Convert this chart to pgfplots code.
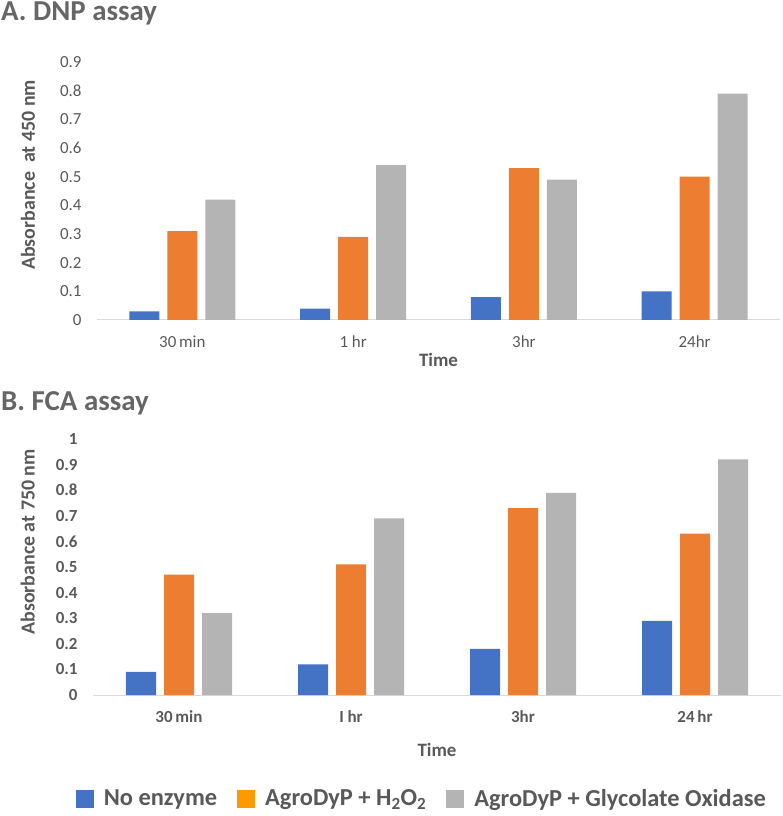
\documentclass[border=0pt]{standalone}
\usepackage{pgfplots}
\pgfplotsset{compat=1.18}
\usepackage{fontspec}
\setmainfont{Carlito}

\definecolor{cblue}{HTML}{4472C4}
\definecolor{corange}{HTML}{ED7D31}
\definecolor{cgray}{HTML}{B4B4B4}
\definecolor{lorange}{HTML}{FF9900}
\definecolor{txt}{HTML}{595959}
\definecolor{ttl}{HTML}{666666}
\definecolor{axline}{HTML}{D9D9D9}

\pgfplotstableread{
x noenz hoo gox
0 0.03 0.31 0.42
1 0.04 0.29 0.54
2 0.08 0.53 0.49
3 0.10 0.50 0.79
}\dnp

\pgfplotstableread{
x noenz hoo gox
0 0.09 0.47 0.32
1 0.12 0.51 0.69
2 0.18 0.73 0.79
3 0.29 0.63 0.92
}\fca

\pgfplotsset{
  assaybars/.style={
    scale only axis,
    ybar, bar width=30bp,
    xmin=-0.5, xmax=3.5, ymin=0,
    xtick=data,
    axis y line*=none,
    axis x line*=bottom,
    x axis line style={draw=axline, line width=1pt},
    y axis line style={draw=none},
    major tick length=0pt,
    ytick style={draw=none}, xtick style={draw=none},
    /pgf/number format/assume math mode=true,
    yticklabel={\pgfmathprintnumber[fixed,precision=1]{\tick}},
    yticklabel style={text=txt, xshift=-12bp},
    xticklabel style={text=txt, yshift=-12bp},
    ylabel style={text=txt, font=\bfseries\fontsize{20}{22}\selectfont},
    xlabel style={text=txt, font=\bfseries\fontsize{19}{22}\selectfont},
    clip=false,
  },
}

\begin{document}
\begin{tikzpicture}
\path[use as bounding box] (0,0) rectangle (783bp,816bp);

\node[anchor=north west, inner sep=0pt, text=ttl, font=\bfseries\fontsize{29}{31}\selectfont] at (1bp,814bp) {A. DNP assay};
\node[anchor=north west, inner sep=0pt, text=ttl, font=\bfseries\fontsize{29}{31}\selectfont] at (1bp,425bp) {B. FCA assay};

\begin{axis}[assaybars,
  at={(97bp,496bp)}, anchor=south west,
  width=683bp, height=258bp,
  ymax=0.9, ytick={0,0.1,...,0.9},
  xticklabels={30\,min, 1 hr, 3hr, 24hr},
  ticklabel style={font=\fontsize{17}{20}\selectfont},
  ylabel={Absorbance\ \ at 450 nm},
  ylabel style={at={(axis description cs:-0.101,0.562)}, anchor=center, rotate=0},
  xlabel={Time},
  xlabel style={at={(axis description cs:0.5,-0.155)}, anchor=center},
]
\addplot[fill=cblue, draw=none, bar shift=-38bp] table[x=x, y=noenz] {\dnp};
\addplot[fill=corange, draw=none, bar shift=0bp] table[x=x, y=hoo] {\dnp};
\addplot[fill=cgray, draw=none, bar shift=38bp] table[x=x, y=gox] {\dnp};
\end{axis}

\begin{axis}[assaybars,
  at={(93bp,121bp)}, anchor=south west,
  width=688bp, height=256bp,
  ymax=1, ytick={0,0.1,...,1},
  xticklabels={30\,min, I hr, 3hr, 24\,hr},
  ticklabel style={font=\bfseries\fontsize{17}{20}\selectfont},
  ylabel={Absorbance at 750 nm},
  ylabel style={at={(axis description cs:-0.095,0.598)}, anchor=center, rotate=0},
  xlabel={Time},
  xlabel style={at={(axis description cs:0.5,-0.215)}, anchor=center},
  legend columns=3,
  legend style={at={(axis description cs:0.478,-0.405)}, anchor=center, draw=none,
    fill=none, font=\bfseries\fontsize{24.5}{27}\selectfont, text=txt,
    /tikz/every odd column/.append style={column sep=2bp},
    /tikz/every even column/.append style={column sep=18bp}},
  legend image code/.code={\fill[#1] (0bp,-9bp) rectangle (18bp,9bp); \path (24bp,0bp);},
]
\addplot[fill=cblue, draw=none, bar shift=-38bp, forget plot] table[x=x, y=noenz] {\fca};
\addplot[fill=corange, draw=none, bar shift=0bp, forget plot] table[x=x, y=hoo] {\fca};
\addplot[fill=cgray, draw=none, bar shift=38bp, forget plot] table[x=x, y=gox] {\fca};
\addlegendimage{fill=cblue, draw=none}
\addlegendentry{No enzyme}
\addlegendimage{fill=lorange, draw=none}
\addlegendentry{AgroDyP + H\textsubscript{2}O\textsubscript{2}}
\addlegendimage{fill=cgray, draw=none}
\addlegendentry{AgroDyP + Glycolate Oxidase}
\end{axis}
\end{tikzpicture}
\end{document}
